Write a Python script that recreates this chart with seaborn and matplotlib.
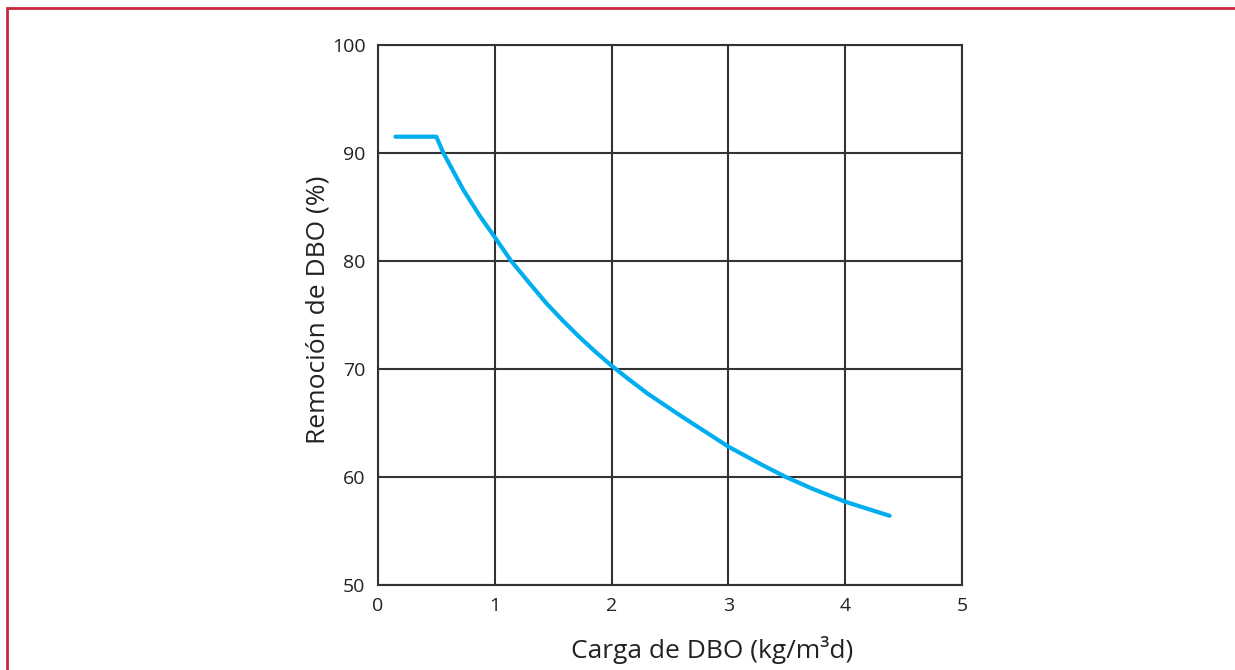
import matplotlib.pyplot as plt
import matplotlib.patches as mpatches
import pandas as pd
import seaborn as sns

# BOD load (kg/m3 d) vs BOD removal (%)
carga = [0.15, 0.50, 0.56, 0.73, 0.87, 1.00, 1.14, 1.30, 1.44, 1.58, 1.72, 1.86,
         2.00, 2.14, 2.31, 2.60, 3.00, 3.29, 3.49, 3.72, 4.00, 4.38]
remocion = [91.5, 91.5, 90.0, 86.6, 84.2, 82.2, 80.0, 77.9, 76.1, 74.5, 73.0, 71.6,
            70.3, 69.1, 67.7, 65.6, 62.8, 61.1, 60.0, 58.9, 57.7, 56.4]
x_ticks = [0, 1, 2, 3, 4, 5]
y_ticks = [50, 60, 70, 80, 90, 100]

sns.set_style("white")
plt.rcParams["font.family"] = ["Open Sans", "DejaVu Sans"]

df = pd.DataFrame({"carga": carga, "remocion": remocion})

fig = plt.figure(figsize=(12.35, 6.7), dpi=100)
ax = fig.add_axes([0.306, 0.127, 0.473, 0.806])

sns.lineplot(data=df, x="carga", y="remocion", ax=ax, color="#00aeef", lw=3,
             sort=False, solid_joinstyle="round")

ax.set_xlim(0, 5)
ax.set_ylim(50, 100)
ax.set_xticks(x_ticks)
ax.set_yticks(y_ticks)
ax.grid(True, color="#333333", lw=1.5)
ax.tick_params(length=0, labelsize=14, colors="#222222", pad=9)
for s in ax.spines.values():
    s.set_color("#333333")
    s.set_linewidth(1.5)

ax.set_xlabel("Carga de DBO (kg/m³d)", fontsize=19, color="#222222")
ax.xaxis.set_label_coords(0.572, -0.095)
ax.set_ylabel("Remoción de DBO (%)", fontsize=19, color="#222222")
ax.yaxis.set_label_coords(-0.082, 0.51)

# red frame around the figure
fig.patches.append(mpatches.Rectangle((0.006, -0.01), 1.2, 0.998, transform=fig.transFigure,
                                      fill=False, edgecolor="#c8283c", lw=2))

fig.savefig("out.png", dpi=100)
